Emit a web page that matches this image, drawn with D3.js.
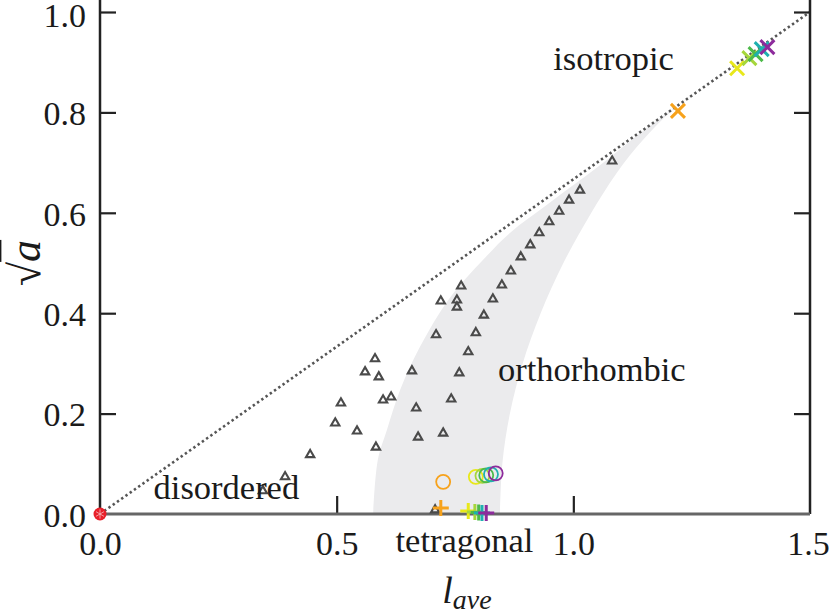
<!DOCTYPE html>
<html><head><meta charset="utf-8">
<script src="https://cdn.jsdelivr.net/npm/d3@7/dist/d3.min.js"></script>
<style>body{margin:0;background:#fff;} svg, svg text{font-family:"Liberation Serif","Times New Roman",Times,"DejaVu Serif",serif !important;}</style>
</head><body>
<svg id="c" width="829" height="614"></svg>
<script>
// ---- data ----
const xTicks = [0.0, 0.5, 1.0, 1.5];
const yTicks = [0.0, 0.2, 0.4, 0.6, 0.8, 1.0];
const seriesColors = ["#f7a21b", "#e8e81a", "#a6d63c", "#4dba4a", "#1fb0b0", "#8d2b9c"];
const isotropicL = [1.221, 1.346, 1.372, 1.385, 1.398, 1.410];
const isotropicA = [0.803, 0.888, 0.908, 0.916, 0.926, 0.930];
const orthoL = [0.725, 0.794, 0.808, 0.816, 0.826, 0.836];
const orthoA = [0.064, 0.074, 0.076, 0.077, 0.079, 0.081];
const tetraL = [0.720, 0.778, 0.792, 0.800, 0.807, 0.816];
const tetraA = [0.012, 0.006, 0.004, 0.003, 0.002, 0.002];
const triL = [1.082,1.014,0.991,0.970,0.949,0.928,0.909,0.889,0.868,0.849,0.830,0.811,0.794,0.778,0.759,0.742,0.725,0.708,
              0.763,0.720,0.754,0.754,0.710,0.581,0.560,0.589,0.659,0.598,0.615,0.668,0.509,0.497,0.543,0.672,0.583,0.444,0.391,0.344];
const triA = [0.703,0.645,0.625,0.603,0.582,0.560,0.536,0.512,0.484,0.456,0.428,0.396,0.361,0.323,0.281,0.229,0.161,0.008,
              0.454,0.424,0.426,0.412,0.357,0.309,0.283,0.273,0.285,0.227,0.233,0.211,0.221,0.181,0.165,0.153,0.133,0.118,0.074,0.046];
const shadeLeftL = [0.577,0.587,0.606,0.634,0.676,0.740,0.809,0.866,0.950,1.050,1.150,1.280];
const shadeLeftA = [0.000,0.108,0.167,0.247,0.333,0.432,0.506,0.560,0.620,0.690,0.765,0.853];
const shadeRightL = [1.280,1.210,1.147,1.092,1.038,0.979,0.931,0.893,0.866,0.850,0.845];
const shadeRightA = [0.853,0.805,0.745,0.680,0.600,0.500,0.400,0.300,0.200,0.100,0.000];
const diagL = [0, 1.5];
const diagA = [0, 1.0];
const labels = [
  {t:"isotropic", l:1.085, a:0.885},
  {t:"orthorhombic", l:1.039, a:0.265},
  {t:"disordered", l:0.267, a:0.030},
  {t:"tetragonal", l:0.770, a:-0.075}
];

// ---- chart ----
const FONT = "'Liberation Serif','Times New Roman',Times,'DejaVu Serif',serif";
const svg = d3.select("#c");
const x = d3.scaleLinear([0, 1.5], [100, 810]);
const y = d3.scaleLinear([0, 1.0], [514, 12]);

// shaded region
const shadePts = shadeLeftL.map((l,i)=>[l, shadeLeftA[i]]).concat(shadeRightL.slice(1).map((l,i)=>[l, shadeRightA[i+1]]));
svg.append("path")
  .attr("d", d3.line().x(d=>x(d[0])).y(d=>y(d[1])).curve(d3.curveCatmullRom)(shadePts) + "Z")
  .attr("fill", "#ebebed");

// diagonal dotted line
svg.append("line")
  .attr("x1", x(diagL[0])).attr("y1", y(diagA[0]))
  .attr("x2", x(diagL[1])).attr("y2", y(diagA[1]))
  .attr("stroke", "#555").attr("stroke-width", 2.6).attr("stroke-dasharray", "2.4,2.8");

// axes
const axB = svg.append("g").attr("transform", `translate(0,${y(0)})`)
  .call(d3.axisBottom(x).tickValues(xTicks).tickFormat(d3.format(".1f")).tickSize(-18).tickPadding(17));
const axL = svg.append("g").attr("transform", `translate(${x(0)},0)`)
  .call(d3.axisLeft(y).tickValues(yTicks).tickFormat(d3.format(".1f")).tickSize(-16).tickPadding(14));
const axR = svg.append("g").attr("transform", `translate(${x(1.5)},0)`)
  .call(d3.axisRight(y).tickValues(yTicks).tickFormat("").tickSize(-16));
[axB, axL, axR].forEach(g => {
  g.attr("font-family", FONT);
  g.select(".domain").remove();
  g.selectAll(".tick line").attr("stroke", "#222").attr("stroke-width", 2.2);
  g.selectAll(".tick text").attr("font-size", 34).attr("fill", "#1a1a1a").attr("font-family", FONT);
});
axB.selectAll(".tick").filter(d => d === 0 || d === 1.5).select("line").remove();
axB.selectAll(".tick").filter(d => d === 1.5).select("text").attr("dx", -2);
axL.selectAll(".tick").filter(d => d === 0).select("line").remove();
axR.selectAll(".tick").filter(d => d === 0).select("line").remove();
axL.selectAll(".tick text").attr("dy", "0.36em");
axL.selectAll(".tick").filter(d => d === 1).select("text").attr("dy", "0.44em");

// spines
svg.append("line").attr("x1", x(0)).attr("x2", x(0)).attr("y1", 0).attr("y2", y(0)).attr("stroke", "#222").attr("stroke-width", 2.5);
svg.append("line").attr("x1", x(1.5)).attr("x2", x(1.5)).attr("y1", 0).attr("y2", y(0)).attr("stroke", "#222").attr("stroke-width", 2.5);
svg.append("line").attr("x1", x(0)).attr("x2", x(1.5)).attr("y1", y(0)).attr("y2", y(0)).attr("stroke", "#666").attr("stroke-width", 3);

// triangles
svg.append("g").selectAll("path").data(triL.map((l,i)=>[l, triA[i]])).join("path")
  .attr("transform", d => `translate(${x(d[0])},${y(d[1])})`)
  .attr("d", d3.symbol(d3.symbolTriangle, 30))
  .attr("fill", "none").attr("stroke", "#4a4a4a").attr("stroke-width", 2.1);

// labels
svg.append("g").selectAll("text").data(labels).join("text")
  .attr("x", d => x(d.l)).attr("y", d => y(d.a))
  .attr("text-anchor", "middle").attr("font-size", 34.5).attr("fill", "#1a1a1a")
  .attr("font-family", FONT)
  .text(d => d.t);

// circles
svg.append("g").selectAll("circle").data(orthoL.map((l,i)=>[l, orthoA[i], seriesColors[i]])).join("circle")
  .attr("cx", d => x(d[0])).attr("cy", d => y(d[1])).attr("r", 7)
  .attr("fill", "none").attr("stroke", d => d[2]).attr("stroke-width", 1.8);

// plus markers
svg.append("g").selectAll("path").data(tetraL.map((l,i)=>[l, tetraA[i], seriesColors[i]])).join("path")
  .attr("transform", d => `translate(${x(d[0])},${y(d[1])})`)
  .attr("d", "M-8,0H8M0,-8V8")
  .attr("stroke", d => d[2]).attr("stroke-width", 3).attr("fill", "none");

// x markers
svg.append("g").selectAll("path").data(isotropicL.map((l,i)=>[l, isotropicA[i], seriesColors[i]])).join("path")
  .attr("transform", d => `translate(${x(d[0])},${y(d[1])})`)
  .attr("d", "M-7,-7L7,7M-7,7L7,-7")
  .attr("stroke", d => d[2]).attr("stroke-width", 3).attr("fill", "none");

// origin marker (disordered)
const o = svg.append("g").attr("transform", `translate(${x(0)},${y(0)})`);
o.append("circle").attr("r", 6.5).attr("fill", "#e8202a");
o.append("path").attr("d", d3.symbol(d3.symbolAsterisk, 60)).attr("stroke", "#fff").attr("stroke-width", 0.8).attr("opacity", 0.7);

// axis titles
const xl = svg.append("text").attr("x", 467).attr("y", 603).attr("text-anchor", "middle")
  .attr("font-style", "italic").attr("fill", "#1a1a1a").attr("font-family", FONT);
xl.append("tspan").attr("font-size", 38).text("l");
xl.append("tspan").attr("font-size", 28).attr("dy", 6).text("ave");

const yl = svg.append("text").attr("transform", "translate(40,263) rotate(-90)")
  .attr("text-anchor", "middle").attr("fill", "#1a1a1a").attr("font-size", 44).attr("font-family", FONT);
yl.append("tspan").text("√");
yl.append("tspan").attr("font-style", "italic").style("text-decoration", "overline").text("a");
</script>
</body></html>
